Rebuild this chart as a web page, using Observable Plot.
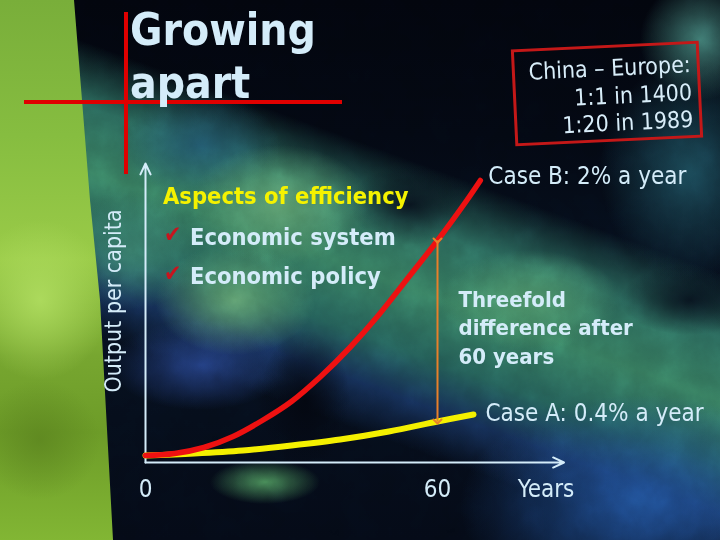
<!DOCTYPE html>
<html><head><meta charset="utf-8">
<script src="https://cdn.jsdelivr.net/npm/d3@7"></script>
<script src="https://cdn.jsdelivr.net/npm/@observablehq/plot@0.6"></script>
<style>
html,body{margin:0;padding:0;width:720px;height:540px;overflow:hidden;background:#040914;}
#slide{position:relative;width:720px;height:540px;overflow:hidden;font-family:"DejaVu Sans Condensed","DejaVu Sans",sans-serif;}
#bg{position:absolute;left:0;top:0;width:720px;height:540px;
background:
 radial-gradient(ellipse 45px 70px at 305px 400px, rgba(3,6,14,.95), transparent),
 radial-gradient(ellipse 60px 40px at 410px 205px, rgba(5,10,22,.85), transparent),
 radial-gradient(ellipse 70px 35px at 690px 300px, rgba(5,12,24,.85), transparent),
 radial-gradient(ellipse 90px 60px at 280px 205px, rgba(95,160,110,.9), transparent),
 radial-gradient(ellipse 80px 55px at 235px 300px, rgba(100,165,110,.85), transparent),
 radial-gradient(ellipse 70px 60px at 130px 250px, rgba(60,130,110,.8), transparent),
 radial-gradient(ellipse 90px 50px at 530px 300px, rgba(80,150,105,.85), transparent),
 radial-gradient(ellipse 60px 60px at 700px 40px, rgba(70,135,125,.85), transparent),
 radial-gradient(ellipse 90px 110px at 690px 170px, rgba(35,95,110,.7), transparent),
 radial-gradient(ellipse 55px 22px at 265px 482px, rgba(75,145,90,.9), transparent),
 radial-gradient(ellipse 180px 110px at 640px 505px, rgba(32,80,150,.9), transparent),
 radial-gradient(ellipse 90px 45px at 200px 365px, rgba(40,70,145,.8), transparent),
 radial-gradient(ellipse 80px 50px at 200px 145px, rgba(30,80,110,.75), transparent),
 linear-gradient(200deg, transparent 34%, rgba(45,110,95,.9) 42%, rgba(55,125,95,.95) 50%, rgba(40,105,95,.85) 58%, rgba(30,65,120,.6) 64%, transparent 70%),
 linear-gradient(#02050d 0%, #030812 25%, #06101e 55%, #040a16 100%);}
#noise{position:absolute;left:0;top:0;width:720px;height:540px;opacity:.35;mix-blend-mode:overlay;}
#strip{position:absolute;left:0;top:0;width:720px;height:540px;
clip-path:polygon(0 0,74px 0,90px 200px,100px 300px,113px 540px,0 540px);
background:
 radial-gradient(ellipse 70px 80px at 40px 300px, rgba(180,225,100,.8), transparent),
 radial-gradient(ellipse 60px 60px at 40px 440px, rgba(90,130,30,.7), transparent),
 linear-gradient(#79ae3a 0%, #86bd40 25%, #9acb48 48%, #77a630 66%, #6d9c28 80%, #82b634 100%);}
#chart{position:absolute;left:0;top:0;}
.t{position:absolute;white-space:nowrap;color:#d4ecf9;line-height:1.164;}
.b{font-weight:bold;}
.redbar{position:absolute;background:#e00000;}
#box{position:absolute;left:513px;top:45px;width:188px;height:97px;box-sizing:border-box;
border:3px solid #c41818;transform:rotate(-2.7deg);text-align:right;padding:7px 6px 0 0;
font-size:23px;line-height:27.5px;color:#d8edf9;white-space:pre;}
</style></head>
<body><div id="slide">
<div id="bg"></div>
<svg id="noise" width="720" height="540"><filter id="f"><feTurbulence type="fractalNoise" baseFrequency="0.035" numOctaves="4" seed="7"/><feColorMatrix type="saturate" values="0"/></filter><rect width="720" height="540" filter="url(#f)"/></svg>
<div id="strip"></div>
<div class="redbar" style="left:124px;top:12px;width:4px;height:162px;"></div>
<div class="redbar" style="left:24px;top:100px;width:318px;height:4px;"></div>
<div id="title" class="t b" style="left:130px;top:3px;font-size:44px;line-height:53px;"></div>
<div id="box"></div>
<div id="aspects" class="t b" style="left:163px;top:183.3px;font-size:23.5px;color:#f5f200;"></div>
<div id="item1" class="t b" style="left:190px;top:223.9px;font-size:23.5px;"></div>
<div id="item2" class="t b" style="left:190px;top:263.2px;font-size:23.5px;"></div>
<div id="chk1" class="t" style="left:164px;top:221px;font-size:23px;color:#c8141e;"></div>
<div id="chk2" class="t" style="left:164px;top:260px;font-size:23px;color:#c8141e;"></div>
<div id="ylab" class="t" style="left:112.5px;top:301px;font-size:23px;transform:translate(-50%,-50%) rotate(-90deg);"></div>
<div id="chart"></div>
</div>
<script>
// Case B: 2% a year (stylised index of output per capita)
const yearsB = [0, 6, 12, 18, 24, 30, 36, 42, 48, 54, 60, 66, 68.8];
const caseB  = [7, 9, 15, 26, 42, 61, 86, 115, 148, 185, 222, 262, 282];
// Case A: 0.4% a year
const yearsA = [0, 10, 20, 30, 40, 50, 60, 67.4];
const caseA  = [7, 9, 12, 17, 23, 31, 41, 48];
// axis ticks
const xTicks = [0, 60];
const xTickLabels = ["0", "60"];
const xAxisMax = 86;
const yAxisMax = 299;
const compareYear = 60;
// texts
const titleLines = ["Growing", "apart"];
const boxLines = ["China – Europe:", "1:1 in 1400", "1:20 in 1989"];
const aspectsTitle = "Aspects of efficiency";
const aspectsItems = ["Economic system", "Economic policy"];
const yLabel = "Output per capita";
const xLabel = "Years";
const labelB = "Case B: 2% a year";
const labelA = "Case A: 0.4% a year";
const diffLabel = "Threefold\ndifference after\n60 years";

document.getElementById("title").innerHTML = titleLines.join("<br>");
document.getElementById("box").textContent = boxLines.join("\n");
document.getElementById("aspects").textContent = aspectsTitle;
document.getElementById("item1").textContent = aspectsItems[0];
document.getElementById("item2").textContent = aspectsItems[1];
document.getElementById("chk1").textContent = "✔";
document.getElementById("chk2").textContent = "✔";
document.getElementById("ylab").textContent = yLabel;

const dataB = yearsB.map((t, i) => ({t, v: caseB[i]}));
const dataA = yearsA.map((t, i) => ({t, v: caseA[i]}));
const iB = yearsB.indexOf(compareYear), iA = yearsA.indexOf(compareYear);
const diff = [{t: compareYear, v1: caseB[iB], v2: caseA[iA], mid: (caseB[iB] + caseA[iA]) / 2}];
const lastB = dataB[dataB.length - 1], lastA = dataA[dataA.length - 1];
const ticks = xTicks.map((t, i) => ({t, label: xTickLabels[i]}));
const light = "#d4ecf9";
const font = "DejaVu Sans Condensed, DejaVu Sans, sans-serif";

const chart = Plot.plot({
  width: 720, height: 540, margin: 0,
  x: {domain: [0, 60], range: [145, 437], axis: null},
  y: {domain: [0, yAxisMax], range: [462, 163], axis: null},
  style: {background: "transparent", overflow: "visible", fontFamily: font, color: light},
  marks: [
    Plot.arrow([{x1: 0, y1: 0, x2: xAxisMax, y2: 0}], {x1: "x1", y1: "y1", x2: "x2", y2: "y2", stroke: light, strokeWidth: 2, headLength: 9, headAngle: 50}),
    Plot.arrow([{x1: 0, y1: 0, x2: 0, y2: yAxisMax}], {x1: "x1", y1: "y1", x2: "x2", y2: "y2", stroke: light, strokeWidth: 2, headLength: 9, headAngle: 50}),
    Plot.line(dataA, {x: "t", y: "v", stroke: "#f4f000", strokeWidth: 6, curve: "catmull-rom"}),
    Plot.line(dataB, {x: "t", y: "v", stroke: "#ee1111", strokeWidth: 5.5, curve: "catmull-rom"}),
    Plot.link(diff, {x1: "t", x2: "t", y1: "v1", y2: "v2", stroke: "#e8802a", strokeWidth: 2, markerStart: "arrow", markerEnd: "arrow"}),
    Plot.text([lastB], {x: "t", y: "v", text: () => labelB, textAnchor: "start", dx: 8, dy: -4, fontSize: 24, fill: light}),
    Plot.text([lastA], {x: "t", y: "v", text: () => labelA, textAnchor: "start", dx: 12, dy: -1, fontSize: 24, fill: light}),
    Plot.text(diff, {x: "t", y: "mid", text: () => diffLabel, textAnchor: "start", dx: 21, dy: -5, fontSize: 22, fontWeight: "bold", lineHeight: 1.3, fill: light}),
    Plot.text(ticks, {x: "t", y: () => 0, text: "label", dy: 27, fontSize: 24, fill: light}),
    Plot.text([{t: xAxisMax}], {x: "t", y: () => 0, text: () => xLabel, dx: -18, dy: 27, fontSize: 24, fill: light})
  ]
});
document.getElementById("chart").appendChild(chart);
</script>
</body></html>
